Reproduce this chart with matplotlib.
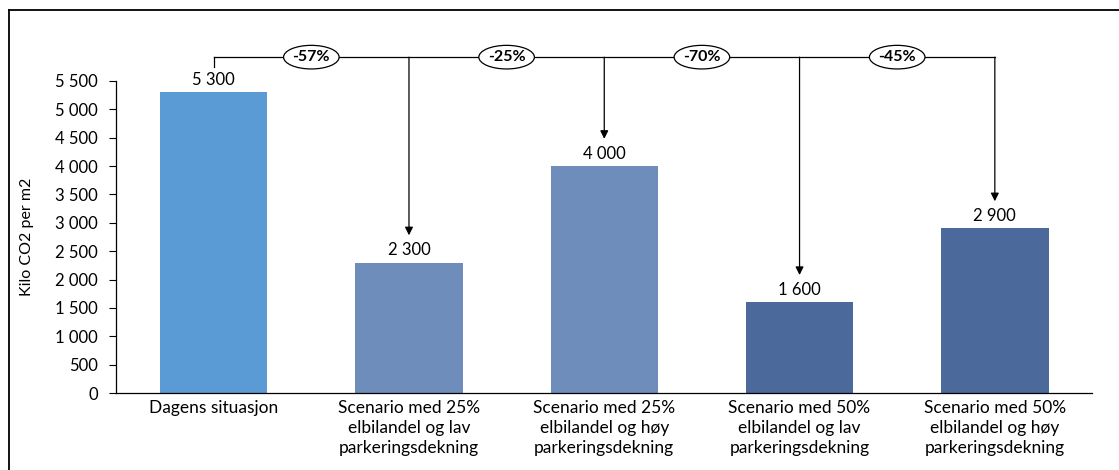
import matplotlib.pyplot as plt
from matplotlib.ticker import FuncFormatter
from matplotlib.lines import Line2D
from matplotlib.patches import Ellipse
from matplotlib.offsetbox import DrawingArea, AnnotationBbox

plt.rcParams['font.family'] = ['Lato', 'DejaVu Sans']

categories = ["Dagens situasjon",
              "Scenario med 25%\nelbilandel og lav\nparkeringsdekning",
              "Scenario med 25%\nelbilandel og høy\nparkeringsdekning",
              "Scenario med 50%\nelbilandel og lav\nparkeringsdekning",
              "Scenario med 50%\nelbilandel og høy\nparkeringsdekning"]
values = [5300, 2300, 4000, 1600, 2900]
changes = ["-57%", "-25%", "-70%", "-45%"]
colors = ['#5B9BD5', '#6F8DBA', '#6F8DBA', '#4B6A9B', '#4B6A9B']


def spaced(v, pos=None):
    return f"{int(v):,}".replace(",", " ")


fig = plt.figure(figsize=(11.19, 4.70), dpi=100)
ax = fig.add_axes([0.1037, 0.1638, 0.8726, 0.6639])

x = list(range(len(values)))
bars = ax.bar(x, values, width=0.55, color=colors, zorder=2)

for xi, v in zip(x, values):
    ax.annotate(spaced(v), (xi, v), xytext=(0, 3), textcoords='offset points',
                ha='center', va='bottom', fontsize=12)

ax.set_xlim(-0.5, len(values) - 0.5)
ax.set_ylim(0, 5500)
ax.set_yticks(range(0, 5501, 500))
ax.yaxis.set_major_formatter(FuncFormatter(spaced))
ax.set_xticks(x)
ax.set_xticklabels(categories, fontsize=12.5, linespacing=1.3)
ax.tick_params(axis='x', length=0, pad=5)
ax.tick_params(axis='y', direction='out', length=5, width=0.8, labelsize=12, pad=8)
ax.set_ylabel("Kilo CO2 per m2", fontsize=11.5, labelpad=15)

for side in ['top', 'right']:
    ax.spines[side].set_visible(False)
ax.spines['left'].set_linewidth(0.9)
ax.spines['bottom'].set_linewidth(0.9)

# bracket from the baseline bar to each scenario
top = 5920
ax.plot([0, len(values) - 1], [top, top], color='black', lw=0.9, clip_on=False)
ax.plot([0, 0], [top, 5750], color='black', lw=0.9, clip_on=False)
for i in range(1, len(values)):
    ax.annotate("", xy=(i, values[i] + 480), xytext=(i, top),
                arrowprops=dict(arrowstyle='-|>', color='black', lw=0.9,
                                mutation_scale=12, shrinkA=0, shrinkB=0),
                annotation_clip=False)
    # oval badge with the change in percent
    da = DrawingArea(42, 18, 0, 0)
    da.add_artist(Ellipse((21, 9), 40, 17, fc='white', ec='black', lw=0.9))
    ab = AnnotationBbox(da, (i - 0.5, top), frameon=False, pad=0,
                        annotation_clip=False, zorder=4)
    ax.add_artist(ab)
    ax.text(i - 0.5, top, changes[i - 1], ha='center', va='center',
            fontsize=11.5, fontweight='bold', clip_on=False, zorder=5)

# outer frame (top and left edges)
fig.add_artist(Line2D([9 / 1119, 1.0], [1 - 10 / 470, 1 - 10 / 470],
                      color='black', lw=1.3, transform=fig.transFigure))
fig.add_artist(Line2D([9 / 1119, 9 / 1119], [0.0, 1 - 10 / 470],
                      color='black', lw=1.3, transform=fig.transFigure))

fig.savefig('out.png', dpi=100)
